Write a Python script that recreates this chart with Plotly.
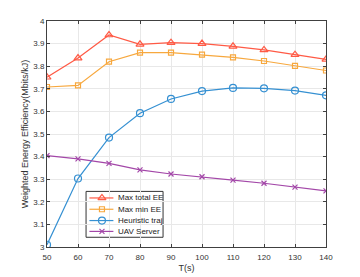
import plotly.graph_objects as go

T = [50, 60, 70, 80, 90, 100, 110, 120, 130, 140]
max_total_ee = [3.751, 3.836, 3.938, 3.897, 3.904, 3.900, 3.888, 3.872, 3.851, 3.830]
max_min_ee = [3.708, 3.715, 3.820, 3.860, 3.860, 3.851, 3.839, 3.823, 3.801, 3.781]
heuristic = [3.010, 3.303, 3.484, 3.592, 3.655, 3.690, 3.704, 3.702, 3.692, 3.671]
uav_server = [3.404, 3.390, 3.370, 3.341, 3.323, 3.311, 3.296, 3.282, 3.265, 3.248]

x_ticks = [50, 60, 70, 80, 90, 100, 110, 120, 130, 140]
y_ticks = [3, 3.1, 3.2, 3.3, 3.4, 3.5, 3.6, 3.7, 3.8, 3.9, 4]
y_tick_text = ["3", "3.1", "3.2", "3.3", "3.4", "3.5", "3.6", "3.7", "3.8", "3.9", "4"]

names = ["Max total EE", "Max min EE", "Heuristic traj", "UAV Server"]
colors = ["#FF5A45", "#F7A83E", "#3590D2", "#A347A8"]
symbols = ["triangle-up-open", "square-open", "circle-open", "x-thin-open"]
sizes = [7, 5, 7, 5]
values = [max_total_ee, max_min_ee, heuristic, uav_server]

fig = go.Figure()
for name, vals, color, sym, size in zip(names, values, colors, symbols, sizes):
    fig.add_trace(go.Scatter(
        x=T, y=vals, name=name, mode="lines+markers", showlegend=False,
        line=dict(color=color, width=1.2),
        marker=dict(symbol=sym, size=size, color=color,
                    line=dict(color=color, width=1.2)),
    ))

# Compact legend (drawn on an overlay axis spanning the plot area, 0..1)
leg_x0, leg_x1, leg_y0, leg_y1 = 0.140, 0.416, 0.043, 0.246
line_x0, line_x1, mark_x, text_x = 0.152, 0.238, 0.197, 0.247
row_y = [0.217, 0.167, 0.117, 0.069]

fig.add_shape(type="rect", xref="x2", yref="y2", x0=leg_x0, x1=leg_x1,
              y0=leg_y0, y1=leg_y1, line=dict(color="#333333", width=1),
              fillcolor="white", layer="below")
for i, (name, color, sym, size) in enumerate(zip(names, colors, symbols, sizes)):
    fig.add_trace(go.Scatter(
        x=[line_x0, line_x1], y=[row_y[i], row_y[i]], xaxis="x2", yaxis="y2",
        mode="lines", line=dict(color=color, width=1.2), showlegend=False,
        hoverinfo="skip",
    ))
    fig.add_trace(go.Scatter(
        x=[mark_x], y=[row_y[i]], xaxis="x2", yaxis="y2", mode="markers",
        marker=dict(symbol=sym, size=size, color=color, line=dict(color=color, width=1.2)),
        showlegend=False, hoverinfo="skip",
    ))
    fig.add_annotation(x=text_x, y=row_y[i], xref="x2", yref="y2", text=name,
                       showarrow=False, xanchor="left", yanchor="middle",
                       font=dict(family="Liberation Sans, Arial", size=8, color="#222222"))

axis_common = dict(
    showgrid=True, gridcolor="#E8E8E8", gridwidth=1,
    showline=True, linecolor="#404040", linewidth=1, mirror="ticks",
    ticks="inside", ticklen=3, tickcolor="#404040",
    tickfont=dict(family="Liberation Sans, Arial", size=8, color="#333333"),
    zeroline=False, automargin=False,
)

fig.update_layout(
    width=360, height=277,
    margin=dict(l=47, r=34, t=21, b=30),
    paper_bgcolor="white", plot_bgcolor="white",
    font=dict(family="Liberation Sans, Arial", size=8, color="#333333"),
    showlegend=False,
    xaxis=dict(
        range=[50, 140], tickvals=x_ticks, ticklabelstandoff=2,
        title=dict(text="T(s)", font=dict(size=9), standoff=4),
        **axis_common,
    ),
    yaxis=dict(
        range=[3, 4], tickvals=y_ticks, ticktext=y_tick_text,
        title=dict(text="Weighted Energy Efficiency(Mbits/kJ)", font=dict(size=9), standoff=3),
        **axis_common,
    ),
    xaxis2=dict(range=[0, 1], overlaying="x", visible=False, fixedrange=True),
    yaxis2=dict(range=[0, 1], overlaying="y", visible=False, fixedrange=True),
)

fig.write_html("out.html", config={"displayModeBar": False},
               post_script="document.body.style.margin='0';document.body.style.padding='0';")
